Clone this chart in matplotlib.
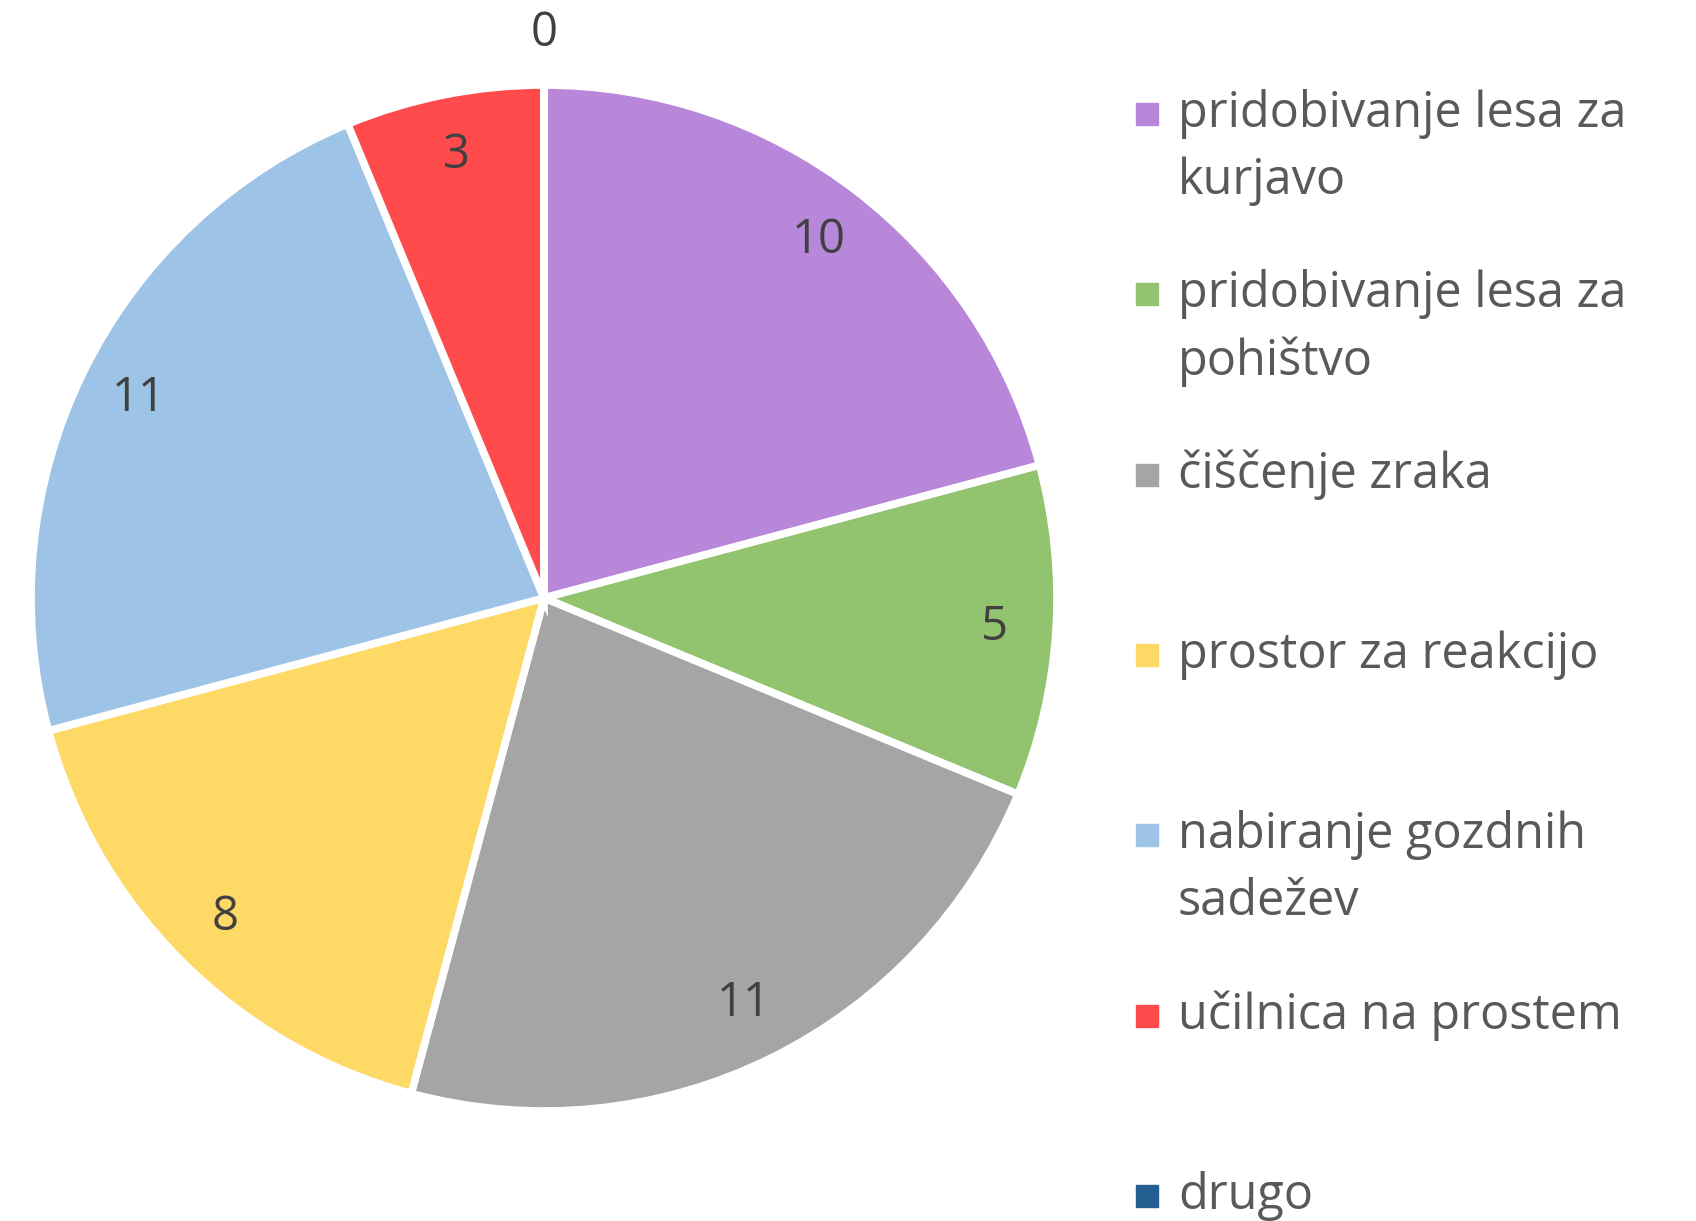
import matplotlib.pyplot as plt
from matplotlib.patches import Rectangle
import numpy as np

categories = ['pridobivanje lesa za\nkurjavo', 'pridobivanje lesa za\npohištvo', 'čiščenje zraka',
              'prostor za reakcijo', 'nabiranje gozdnih\nsadežev', 'učilnica na prostem', 'drugo']
values = [10, 5, 11, 8, 11, 3, 0]
colors = ['#B887D9', '#92C36E', '#A5A5A5', '#FFD966', '#9DC3E6', '#FF4B4B', '#255E91']

plt.rcParams['font.family'] = ['Open Sans', 'DejaVu Sans']
txt_color = '#595959'

W, H = 1696, 1221
fig = plt.figure(figsize=(W / 100, H / 100), dpi=100)

# pie area in pixels: center (544, 598), radius 513
cx, cy, r = 544, 598, 513
ax = fig.add_axes([(cx - r) / W, (H - cy - r) / H, 2 * r / W, 2 * r / H])
wedges, _ = ax.pie(values, colors=colors, startangle=90, counterclock=False, radius=1,
                   wedgeprops=dict(edgecolor='white', linewidth=5.5))
ax.set_xlim(-1, 1)
ax.set_ylim(-1, 1)
ax.set_aspect('equal')
ax.axis('off')

for w, v in zip(wedges, values):
    ang = np.deg2rad((w.theta1 + w.theta2) / 2)
    d = 0.88 if v > 0 else 1.1
    ax.text(d * np.cos(ang), d * np.sin(ang), str(v), ha='center', va='center',
            fontsize=34, color='#404040', clip_on=False)

# legend drawn by hand, one slot per entry
for i, (lab, c) in enumerate(zip(categories, colors)):
    y = 114 + i * 180.3
    fig.patches.append(Rectangle(((1136) / W, (H - y - 11) / H), 22 / W, 22 / H,
                                 transform=fig.transFigure, color=c))
    for j, line in enumerate(lab.split('\n')):
        fig.text(1178 / W, (H - y - j * 67) / H, line, ha='left', va='center',
                 fontsize=35, color=txt_color)

fig.savefig('out.png', dpi=100, facecolor='white')
